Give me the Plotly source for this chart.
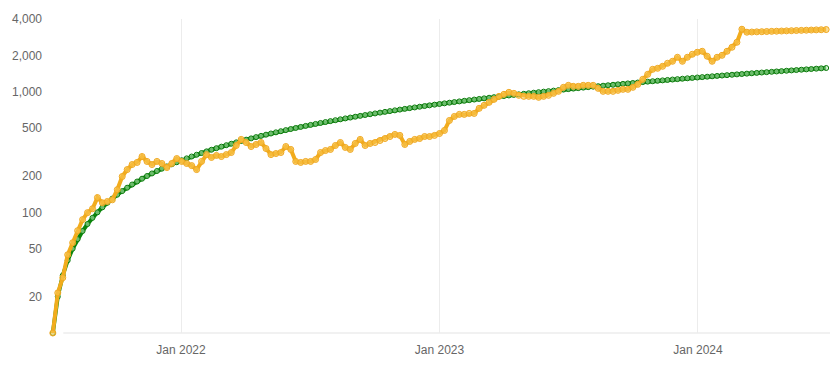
import pandas as pd
import plotly.graph_objects as go

start_date = "2021-07-04"
n_weeks = 157
dates = pd.date_range(start_date, periods=n_weeks, freq="7D")

invested = [
    10, 20, 30, 40, 50, 60, 70, 80, 90, 100,
    110, 120, 130, 140, 150, 160, 170, 180, 190, 200,
    210, 220, 230, 240, 250, 260, 270, 280, 290, 300,
    310, 320, 330, 340, 350, 360, 370, 380, 390, 400,
    410, 420, 430, 440, 450, 460, 470, 480, 490, 500,
    510, 520, 530, 540, 550, 560, 570, 580, 590, 600,
    610, 620, 630, 640, 650, 660, 670, 680, 690, 700,
    710, 720, 730, 740, 750, 760, 770, 780, 790, 800,
    810, 820, 830, 840, 850, 860, 870, 880, 890, 900,
    910, 920, 930, 940, 950, 960, 970, 980, 990, 1000,
    1010, 1020, 1030, 1040, 1050, 1060, 1070, 1080, 1090, 1100,
    1110, 1120, 1130, 1140, 1150, 1160, 1170, 1180, 1190, 1200,
    1210, 1220, 1230, 1240, 1250, 1260, 1270, 1280, 1290, 1300,
    1310, 1320, 1330, 1340, 1350, 1360, 1370, 1380, 1390, 1400,
    1410, 1420, 1430, 1440, 1450, 1460, 1470, 1480, 1490, 1500,
    1510, 1520, 1530, 1540, 1550, 1560, 1570,
]

portfolio = [
    10, 21.5, 28.7, 44.5, 56, 70.5, 87, 99.4, 107, 132.5,
    120, 123, 127, 154, 198, 226, 249, 259, 290, 264,
    249, 264, 254, 235, 254, 279, 264, 254, 244, 226,
    264, 301, 285, 296, 290, 301, 313, 358, 402, 379,
    351, 365, 379, 338, 301, 307, 313, 351, 332, 264,
    259, 264, 264, 274, 313, 325, 332, 358, 379, 345,
    332, 372, 402, 358, 372, 379, 394, 409, 425, 442,
    434, 365, 387, 402, 409, 425, 425, 434, 450, 477,
    577, 623, 648, 648, 660, 660, 727, 770, 815, 863,
    914, 950, 987, 968, 932, 914, 914, 914, 897, 914,
    932, 968, 1006, 1086, 1128, 1107, 1107, 1128, 1128, 1128,
    1065, 1006, 1006, 1006, 1025, 1045, 1045, 1086, 1150, 1265,
    1392, 1532, 1561, 1622, 1718, 1785, 1927, 1785, 1927, 2040,
    2120, 2161, 1965, 1785, 1927, 2001, 2161, 2333, 2567, 3291,
    3109, 3120, 3130, 3140, 3150, 3160, 3170, 3180, 3190, 3200,
    3210, 3220, 3230, 3240, 3250, 3260, 3270,
]

y_tick_vals = [20, 50, 100, 200, 500, 1000, 2000, 4000]
y_tick_text = ["20", "50", "100", "200", "500", "1,000", "2,000", "4,000"]
x_tick_vals = ["2022-01-01", "2023-01-01", "2024-01-01"]
x_tick_text = ["Jan 2022", "Jan 2023", "Jan 2024"]

fig = go.Figure()

fig.add_trace(go.Scatter(
    x=dates, y=invested, mode="lines+markers", name="Invested",
    line=dict(color="#0a860a", width=4),
    marker=dict(symbol="circle", size=5, color="rgba(190,235,190,0.55)",
                line=dict(color="#0a7a0a", width=1)),
    cliponaxis=False,
))

fig.add_trace(go.Scatter(
    x=dates, y=portfolio, mode="lines+markers", name="Value",
    line=dict(color="#F2AC1C", width=4),
    marker=dict(symbol="circle", size=6, color="rgba(248,196,80,0.6)",
                line=dict(color="#F0A820", width=1)),
    cliponaxis=False,
))

fig.add_shape(type="line", xref="paper", yref="paper",
              x0=0.017, x1=1.0, y0=0, y1=0,
              line=dict(color="#e3e3e3", width=1), layer="below")

fig.update_layout(
    width=839, height=369,
    margin=dict(l=50, r=9, t=19, b=36),
    paper_bgcolor="white", plot_bgcolor="white",
    showlegend=False,
    font=dict(family="Arial, Liberation Sans, sans-serif", size=12, color="#666666"),
    xaxis=dict(
        type="date",
        range=["2021-06-30", "2024-07-05 10:00"],
        tickvals=x_tick_vals, ticktext=x_tick_text,
        showgrid=True, gridcolor="#ececec", gridwidth=1,
        zeroline=False, showline=False, ticks="",
        ticklabelstandoff=8,
    ),
    yaxis=dict(
        type="log",
        range=[1, 3.60206],
        tickvals=y_tick_vals, ticktext=y_tick_text,
        showgrid=False, zeroline=False, showline=False, ticks="",
        ticklabelstandoff=7,
    ),
)

fig.write_html("out.html")
